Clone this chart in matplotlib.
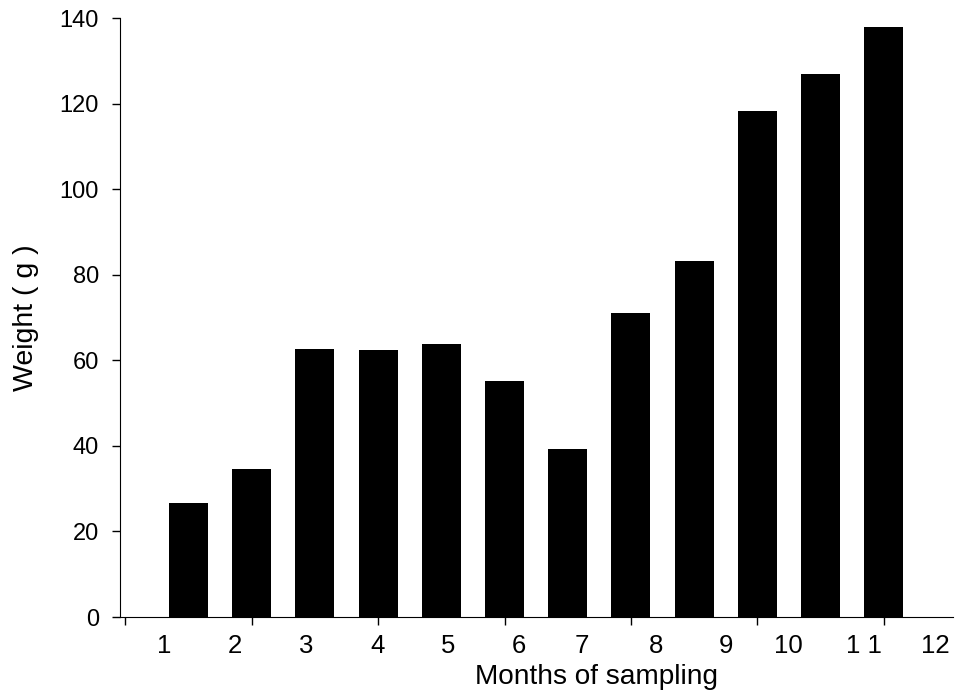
import matplotlib
matplotlib.use("Agg")
import matplotlib.pyplot as plt
import numpy as np

# monthly mean weight (g)
months = np.arange(1, 13)
weights = [26.6, 34.5, 62.6, 62.4, 63.8, 55.2, 39.3, 71.1, 83.2, 118.2, 126.9, 137.9]
month_labels = ["1", "2", "3", "4", "5", "6", "7", "8", "9", "10", "1 1", "12"]
# label positions as printed under the axis (they drift from the bars)
label_pos = [0.62, 1.73, 2.86, 3.99, 5.11, 6.23, 7.22, 8.39, 9.50, 10.49, 11.68, 12.82]

plt.rcParams["font.family"] = ["Liberation Sans", "DejaVu Sans"]

fig = plt.figure(figsize=(9.6, 6.96), dpi=100)
ax = fig.add_axes([0.1245, 0.1135, 0.868, 0.8605])

ax.bar(months, weights, width=0.617, color="black", zorder=3)

ax.set_xlim(-0.09, 13.09)
ax.set_ylim(0, 140)
ax.set_yticks(np.arange(0, 141, 20))
ax.set_xticks(np.arange(0, 13, 2))
ax.set_xticklabels([])
ax.tick_params(axis="x", direction="out", length=5.8, width=1)
ax.tick_params(axis="y", direction="out", length=5.8, width=1, pad=9,
               labelsize=17)

for sp in ("top", "right"):
    ax.spines[sp].set_visible(False)

# month labels, baseline ~36 px under the axis
for p, t in zip(label_pos, month_labels):
    ax.text(p, -0.060, t, ha="center", va="baseline", fontsize=18.5,
            transform=ax.get_xaxis_transform(), clip_on=False)

fig.text(26 / 960, 1 - 318 / 696, "Weight ( g )", rotation=90,
         ha="center", va="center", fontsize=20.5)
fig.text(596.5 / 960, 1 - 684 / 696, "Months of sampling",
         ha="center", va="baseline", fontsize=20.2)

fig.savefig("out.png", dpi=100)
